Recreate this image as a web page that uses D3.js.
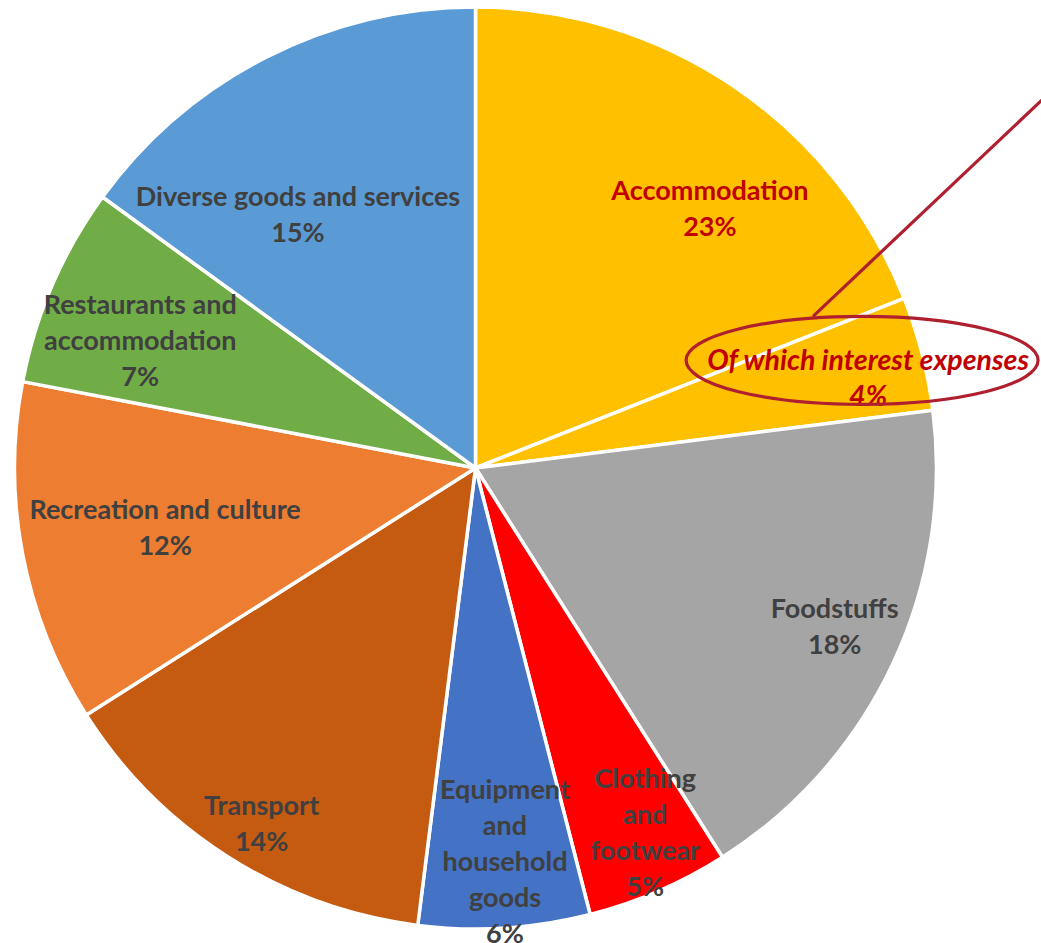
<!DOCTYPE html>
<html>
<head>
<meta charset="utf-8">
<script src="https://cdn.jsdelivr.net/npm/d3@7"></script>
<style>
  html, body { margin: 0; padding: 0; background: #ffffff; }
  svg { display: block; }
</style>
</head>
<body>
<svg id="chart" width="1041" height="943"></svg>
<script>
// Household consumption shares (%), clockwise from 12 o'clock
const categories = [
  "Accommodation",
  "Foodstuffs",
  "Clothing and footwear",
  "Equipment and household goods",
  "Transport",
  "Recreation and culture",
  "Restaurants and accommodation",
  "Diverse goods and services"
];
const shares = [23, 18, 5, 6, 14, 12, 7, 15];

// Sub-item shown as its own wedge inside its parent
const subItemParent = "Accommodation";
const subItemLabel = "Of which interest expenses";
const subItemShare = 4;

// Line breaks used when printing each category label
const labelLines = {
  "Accommodation": ["Accommodation"],
  "Foodstuffs": ["Foodstuffs"],
  "Clothing and footwear": ["Clothing", "and", "footwear"],
  "Equipment and household goods": ["Equipment", "and", "household", "goods"],
  "Transport": ["Transport"],
  "Recreation and culture": ["Recreation and culture"],
  "Restaurants and accommodation": ["Restaurants and", "accommodation"],
  "Diverse goods and services": ["Diverse goods and services"],
  "Of which interest expenses": ["Of which interest expenses"]
};

// Colours
const colors = {
  "Accommodation": "#FFC000",
  "Of which interest expenses": "#FFC000",
  "Foodstuffs": "#A5A5A5",
  "Clothing and footwear": "#FF0000",
  "Equipment and household goods": "#4472C4",
  "Transport": "#C55A11",
  "Recreation and culture": "#ED7D31",
  "Restaurants and accommodation": "#70AD47",
  "Diverse goods and services": "#5B9BD5"
};

// Label placement: [radius as fraction of pie radius, angular nudge in degrees]
const labelPlacement = {
  "Accommodation": [0.76, 7.8],
  "Of which interest expenses": [0.874, 1.4],
  "Foodstuffs": [0.851, -1.5],
  "Clothing and footwear": [0.871, -1.6],
  "Equipment and household goods": [0.853, -0.7],
  "Transport": [0.898, -1.3],
  "Recreation and culture": [0.685, 0.2],
  "Restaurants and accommodation": [0.779, -2.4],
  "Diverse goods and services": [0.673, -7.9]
};

const svg = d3.select("#chart");
const cx = 475.5, cy = 468, radius = 461;
const g = svg.append("g").attr("transform", `translate(${cx},${cy})`);

// Wedges: the parent keeps its share minus the sub-item, which follows right after it
const wedges = [];
categories.forEach((c, i) => {
  if (c === subItemParent) {
    wedges.push({ key: c, value: shares[i] - subItemShare, labelValue: shares[i], italic: false, accent: true });
    wedges.push({ key: subItemLabel, value: subItemShare, labelValue: subItemShare, italic: true, accent: true });
  } else {
    wedges.push({ key: c, value: shares[i], labelValue: shares[i], italic: false, accent: false });
  }
});

const pie = d3.pie().sort(null).value(d => d.value);
const arc = d3.arc().innerRadius(0).outerRadius(radius);
const arcs = pie(wedges);

g.selectAll("path.slice")
  .data(arcs)
  .join("path")
  .attr("class", "slice")
  .attr("d", arc)
  .attr("fill", d => colors[d.data.key])
  .attr("stroke", "#ffffff")
  .attr("stroke-width", 3.5)
  .attr("stroke-linejoin", "round");

// Labels
const lineGap = 36;
const fontFamily = "Lato, 'Open Sans', sans-serif";
arcs.forEach(a => {
  const [rf, nudge] = labelPlacement[a.data.key];
  const ang = (a.startAngle + a.endAngle) / 2 + nudge * Math.PI / 180;
  const r = rf * radius;
  const x = r * Math.sin(ang), y = -r * Math.cos(ang);
  const lines = labelLines[a.data.key].concat([d3.format(".0f")(a.data.labelValue) + "%"]);
  const top = y - (lines.length - 1) * lineGap / 2;
  const t = g.append("text")
    .attr("text-anchor", "middle")
    .attr("font-family", fontFamily)
    .attr("font-weight", 700)
    .attr("font-size", a.data.italic ? 28.5 : 27)
    .attr("font-style", a.data.italic ? "italic" : "normal")
    .attr("fill", a.data.accent ? "#C00000" : "#404040");
  lines.forEach((ln, i) => {
    t.append("tspan")
      .attr("x", x)
      .attr("y", top + i * lineGap)
      .attr("dominant-baseline", "central")
      .text(ln);
  });
});

// Highlight around the sub-item label, with a call-out line leaving the frame
const sub = arcs.find(a => a.data.key === subItemLabel);
const [srf, snudge] = labelPlacement[subItemLabel];
const sAng = (sub.startAngle + sub.endAngle) / 2 + snudge * Math.PI / 180;
const ex = srf * radius * Math.sin(sAng) - 6;
const ey = -srf * radius * Math.cos(sAng) - 17;
const erx = 176, ery = 44;
g.append("ellipse")
  .attr("cx", ex).attr("cy", ey)
  .attr("rx", erx).attr("ry", ery)
  .attr("fill", "none")
  .attr("stroke", "#B01F2E")
  .attr("stroke-width", 3.2);

const startX = ex - 49, startY = ey - ery;
const slope = 156 / 165;
const endX = 1060 - cx;
g.append("line")
  .attr("x1", startX).attr("y1", startY)
  .attr("x2", endX).attr("y2", startY - (endX - startX) * slope)
  .attr("stroke", "#B01F2E")
  .attr("stroke-width", 3.2);
</script>
</body>
</html>
